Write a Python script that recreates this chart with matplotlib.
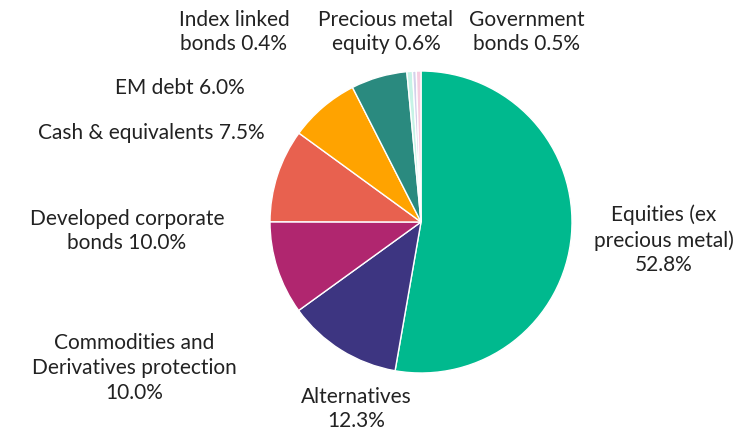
import matplotlib as mpl
from matplotlib import pyplot as plt

mpl.rcParams["font.family"] = ["Lato", "DejaVu Sans"]

# slices, clockwise from 12 o'clock
labels = ["Equities (ex\nprecious metal)\n52.8%", "Alternatives\n12.3%",
          "Commodities and\nDerivatives protection\n10.0%",
          "Developed corporate\nbonds 10.0%", "Cash & equivalents 7.5%",
          "EM debt 6.0%", "Precious metal\nequity 0.6%",
          "Index linked\nbonds 0.4%", "Government\nbonds 0.5%"]
values = [52.8, 12.3, 10.0, 10.0, 7.5, 6.0, 0.6, 0.4, 0.5]
colors = ["#00b98e", "#3d3581", "#b0266f", "#e8614f", "#ffa300",
          "#2a8a7f", "#c6f3e6", "#d3d1ea", "#f6cde0"]

# label positions in pixels (x, y from top)
label_pos = [(664, 240), (356, 409), (134, 368), (127, 231), (151, 133),
             (180, 88), (386, 32), (234, 32), (527, 32)]

W, H = 753, 434
fig = plt.figure(figsize=(W / 100, H / 100), dpi=100)
ax = fig.add_axes([0, 0, 1, 1])

ax.pie(values, colors=colors, startangle=90, counterclock=False,
       center=(421, H - 222), radius=151, frame=True,
       wedgeprops=dict(edgecolor="white", linewidth=1))
ax.set_xlim(0, W)
ax.set_ylim(0, H)
ax.set_aspect("equal")
ax.axis("off")

for lab, (x, y) in zip(labels, label_pos):
    ax.text(x, H - y, lab, ha="center", va="center", fontsize=15,
            color="#222222", linespacing=1.3)

fig.savefig("out.png", dpi=100)
